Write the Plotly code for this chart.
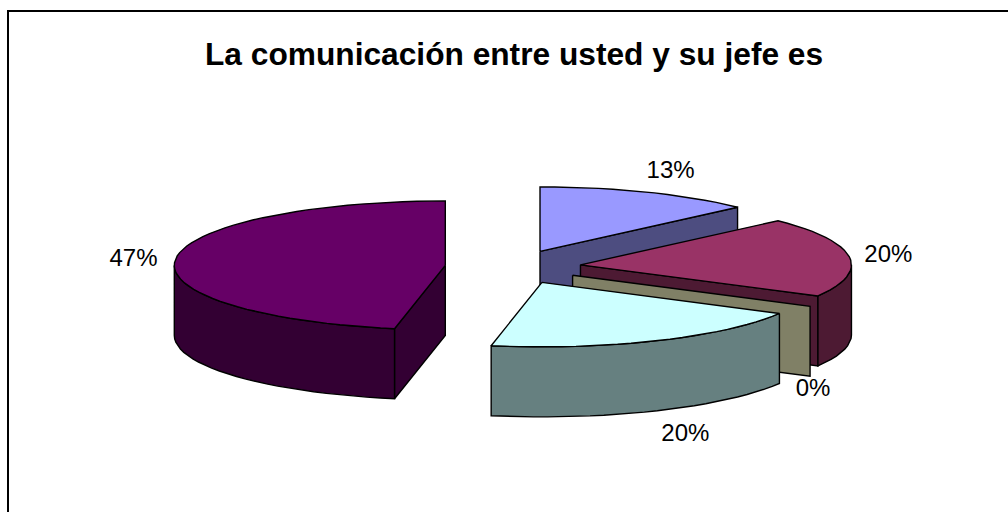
import math
import plotly.graph_objects as go

# Survey answers, in clockwise order from twelve o'clock
categories = ["Excelente", "Buena", "Regular", "Mala", "Muy mala"]
shares = [13, 20, 0, 20, 47]
labels = ["13%", "20%", "0%", "20%", "47%"]
top_colors = ["#9999FF", "#993366", "#FFFFCC", "#CCFFFF", "#660066"]
side_colors = ["#4D4D80", "#4D1A33", "#808066", "#668080", "#330033"]
title = "La comunicación entre usted y su jefe es"

# Projection of the tilted pie onto the plot area (axes run in page pixels)
CX, CY = 513, 267
RX, RY = 271, 64.5
DEPTH = 70
EXPLODE_X, EXPLODE_Y = 68, 17
STEP = 3.0
# Label anchors relative to the outer rim point at each slice's bisector
LABEL_SHIFT = [(23, -20), (39, -1), (3, 14), (28, 24), (-42, 1)]
LABEL_DROP = [0, 0, 1, 1, 0]


def rim(ax, ay, deg):
    a = math.radians(deg)
    return ax + RX * math.sin(a), ay - RY * math.cos(a)


def arc(ax, ay, start, end):
    n = max(1, int(abs(end - start) / STEP))
    return [rim(ax, ay, start + (end - start) * i / n) for i in range(n + 1)]


def polygon(points, color):
    xs = [p[0] for p in points] + [points[0][0]]
    ys = [p[1] for p in points] + [points[0][1]]
    return go.Scatter(
        x=xs, y=ys, mode="lines", fill="toself", fillcolor=color,
        line=dict(color="#000000", width=1.4), hoverinfo="skip", showlegend=False,
    )


fig = go.Figure()
text_x, text_y = [], []
start = 0.0
total = sum(shares)
for i, share in enumerate(shares):
    end = start + 360.0 * share / total
    mid = (start + end) / 2
    m = math.radians(mid)
    ax = CX + EXPLODE_X * math.sin(m)
    ay = CY - EXPLODE_Y * math.cos(m)

    # Radial cut faces that turn towards the viewer
    if math.sin(math.radians(end)) > 0.01:
        p = rim(ax, ay, end)
        fig.add_trace(polygon([(ax, ay), p, (p[0], p[1] + DEPTH), (ax, ay + DEPTH)], side_colors[i]))
    if math.sin(math.radians(start)) < -0.01:
        p = rim(ax, ay, start)
        fig.add_trace(polygon([(ax, ay), p, (p[0], p[1] + DEPTH), (ax, ay + DEPTH)], side_colors[i]))

    # Outer wall, front half of the ellipse only
    lo, hi = max(start, 90.0), min(end, 270.0)
    if hi > lo:
        wall = arc(ax, ay, lo, hi)
        fig.add_trace(polygon(wall + [(x, y + DEPTH) for x, y in reversed(wall)], side_colors[i]))

    # Top face
    if end > start:
        fig.add_trace(polygon([(ax, ay)] + arc(ax, ay, start, end), top_colors[i]))

    lx, ly = rim(ax, ay, mid)
    text_x.append(lx + LABEL_SHIFT[i][0])
    text_y.append(ly + LABEL_SHIFT[i][1] + LABEL_DROP[i] * DEPTH)
    start = end

fig.add_trace(go.Scatter(
    x=text_x, y=text_y, mode="text", text=labels, textposition="middle center",
    textfont=dict(family="Liberation Sans, Arial, sans-serif", size=24, color="#000000"),
    customdata=categories, hoverinfo="skip", showlegend=False,
))

fig.update_layout(
    width=1008, height=512,
    margin=dict(l=0, r=0, t=0, b=0),
    paper_bgcolor="#FFFFFF", plot_bgcolor="#FFFFFF",
    xaxis=dict(range=[0, 1008], visible=False, fixedrange=True),
    yaxis=dict(range=[512, 0], visible=False, fixedrange=True),
    # The chart frame runs off the page on the right and at the bottom
    shapes=[dict(type="rect", xref="x", yref="y", x0=8, y0=11, x1=1030, y1=530,
                 line=dict(color="#000000", width=2), fillcolor="rgba(0,0,0,0)", layer="below")],
    annotations=[dict(text="<b>%s</b>" % title, xref="x", yref="y", x=513.5, y=54,
                      showarrow=False, xanchor="center", yanchor="middle",
                      font=dict(family="Liberation Sans, Arial, sans-serif", size=31.7, color="#000000"))],
)

fig.write_html("out.html", config={"displayModeBar": False})
